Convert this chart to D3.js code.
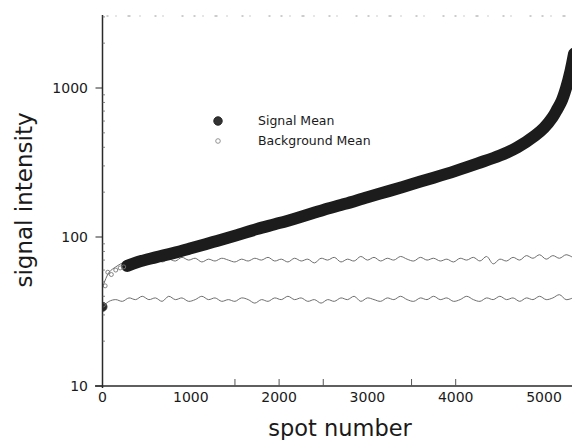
<!DOCTYPE html>
<html>
<head>
<meta charset="utf-8">
<script src="https://cdn.jsdelivr.net/npm/d3@7"></script>
<style>
  html, body { margin: 0; padding: 0; background: #fff; }
  svg { display: block; font-family: "DejaVu Sans", sans-serif; }
</style>
</head>
<body>
<svg id="chart" width="572" height="440"></svg>
<script>
// ---------------- data ----------------
const xTickLabels = [0, 1000, 2000, 3000, 4000, 5000];
const xMinorTicks = [1500, 2000, 2500, 3500, 4000];
const yTickLabels = [10, 100, 1000];

// Signal Mean (sorted spot intensities), thick dark band
const signalSpots  = [280, 400, 600, 800, 1000, 1250, 1500, 1750, 2000, 2250, 2500, 2750, 3000, 3250, 3500, 3750, 4000, 4250, 4500, 4700, 4900, 5000, 5100, 5150, 5200, 5250, 5300, 5340];
const signalValues = [64, 68, 73, 78, 84, 92.5, 102, 113, 124, 137, 152, 167, 185, 204, 226, 250, 278, 312, 352, 400, 480, 540, 640, 720, 820, 1000, 1300, 1700];

// first few (low) signal points, drawn individually
const signalStartSpots  = [0, 10, 30, 60, 100, 150, 200, 240];
const signalStartValues = [34, 35, 47, 58, 56, 60, 62, 63];

// Background means, sampled every 75 spots starting at spot 0
const bgStep = 75;
const bgUpper = [46, 58, 63, 67, 70, 68, 71, 69, 72, 68, 71, 69, 73, 70, 72, 68, 71, 69, 72, 70,
                 68, 71, 69, 72, 70, 73, 69, 71, 68, 72, 69, 71, 67, 72, 70, 73, 68, 71, 69, 74,
                 70, 73, 69, 72, 70, 74, 71, 69, 73, 70, 72, 69, 71, 68, 72, 70, 73, 69, 74, 66,
                 71, 69, 73, 70, 75, 72, 76, 71, 75, 72, 76, 73];
const bgLower = [34, 37, 38, 37, 39, 38, 40, 38, 39, 37, 40, 38, 39, 37, 38, 40, 38, 39, 37, 38,
                 37, 39, 38, 36, 38, 37, 39, 38, 40, 38, 39, 37, 38, 36, 38, 37, 39, 38, 40, 37,
                 39, 38, 37, 39, 38, 40, 38, 37, 39, 38, 40, 38, 39, 37, 38, 40, 38, 37, 39, 38,
                 40, 38, 39, 37, 39, 38, 40, 38, 39, 41, 38, 39];

const legendItems = ["Signal Mean", "Background Mean"];

// ---------------- layout ----------------
const svg = d3.select("#chart");
const pLeft = 102.5, pRight = 572, pTop = 15, pBottom = 386;

const x = d3.scaleLinear().domain([0, 5000]).range([pLeft, 544]);
const y = d3.scaleLog().domain([10, 1000]).range([pBottom, 88]);

svg.append("defs").append("clipPath").attr("id", "plotclip")
  .append("rect").attr("x", pLeft).attr("y", pTop).attr("width", pRight - pLeft).attr("height", pBottom - pTop);

const plot = svg.append("g").attr("clip-path", "url(#plotclip)");

// faint broken top frame
svg.append("line")
  .attr("x1", pLeft + 4).attr("x2", pRight).attr("y1", pTop + 1).attr("y2", pTop + 1)
  .attr("stroke", "#9a9a9a").attr("stroke-width", 1)
  .attr("stroke-dasharray", "2,7,1,11,3,9,1,14,2,6,1,18,2,10");

// background lines
const bgLine = d3.line()
  .x((d, i) => x(i * bgStep))
  .y(d => y(d))
  .curve(d3.curveCatmullRom);

plot.append("path").datum(bgUpper)
  .attr("d", bgLine).attr("fill", "none")
  .attr("stroke", "#6e6e6e").attr("stroke-width", 1);
plot.append("path").datum(bgLower)
  .attr("d", bgLine).attr("fill", "none")
  .attr("stroke", "#6e6e6e").attr("stroke-width", 1);

// signal band
const sigLine = d3.line()
  .x((d, i) => x(signalSpots[i]))
  .y(d => y(d))
  .curve(d3.curveCatmullRom);

plot.append("path").datum(signalValues)
  .attr("d", sigLine).attr("fill", "none")
  .attr("stroke", "#1c1c1c").attr("stroke-width", 12)
  .attr("stroke-linecap", "round").attr("stroke-linejoin", "round");

// low starting points
plot.selectAll("circle.start").data(signalStartValues).enter().append("circle")
  .attr("class", "start")
  .attr("cx", (d, i) => x(signalStartSpots[i]))
  .attr("cy", d => y(d))
  .attr("r", (d, i) => i === 0 ? 4.5 : 2)
  .attr("fill", (d, i) => i === 0 ? "#2a2a2a" : "none")
  .attr("stroke", (d, i) => i === 0 ? "#2a2a2a" : "#777")
  .attr("stroke-width", 0.9);

// ---------------- axes ----------------
const axisColor = "#2a2a2a";
svg.append("line").attr("x1", pLeft).attr("x2", pLeft).attr("y1", pTop).attr("y2", pBottom + 2)
  .attr("stroke", axisColor).attr("stroke-width", 1.5);
svg.append("line").attr("x1", 95).attr("x2", pRight).attr("y1", pBottom).attr("y2", pBottom)
  .attr("stroke", axisColor).attr("stroke-width", 1.5);

yTickLabels.forEach(v => {
  svg.append("line").attr("x1", pLeft - 7).attr("x2", pLeft).attr("y1", y(v)).attr("y2", y(v))
    .attr("stroke", axisColor).attr("stroke-width", 1);
  svg.append("text").attr("x", 88).attr("y", y(v) + 5)
    .attr("text-anchor", "end").attr("font-size", 14).attr("fill", "#1a1a1a")
    .text(v);
});
[20,30,40,50,60,70,80,90,200,300,400,500,600,700,800,900,2000,3000].forEach(v => {
  svg.append("line").attr("x1", pLeft).attr("x2", pLeft + 2.5).attr("y1", y(v)).attr("y2", y(v))
    .attr("stroke", "#666").attr("stroke-width", 0.8);
});

xMinorTicks.forEach(v => {
  svg.append("line").attr("x1", x(v)).attr("x2", x(v)).attr("y1", pBottom).attr("y2", pBottom - 7)
    .attr("stroke", "#555").attr("stroke-width", 1);
});
xTickLabels.forEach(v => {
  svg.append("text").attr("x", x(v)).attr("y", 402)
    .attr("text-anchor", "middle").attr("font-size", 14).attr("fill", "#1a1a1a")
    .text(v);
});

svg.append("text").attr("x", 340).attr("y", 436)
  .attr("text-anchor", "middle").attr("font-size", 22.5).attr("fill", "#1a1a1a")
  .text("spot number");
svg.append("text").attr("transform", "translate(32,200) rotate(-90)")
  .attr("text-anchor", "middle").attr("font-size", 23).attr("fill", "#1a1a1a")
  .text("signal intensity");

// ---------------- legend ----------------
const lg = svg.append("g");
lg.append("circle").attr("cx", 218).attr("cy", 121).attr("r", 4.2)
  .attr("fill", "#333").attr("stroke", "#222").attr("stroke-width", 1);
lg.append("circle").attr("cx", 218).attr("cy", 141).attr("r", 2.3)
  .attr("fill", "none").attr("stroke", "#888").attr("stroke-width", 0.9);
legendItems.forEach((t, i) => {
  lg.append("text").attr("x", 258).attr("y", 125 + i * 20)
    .attr("font-size", 12.5).attr("fill", "#1a1a1a").text(t);
});
</script>
</body>
</html>
